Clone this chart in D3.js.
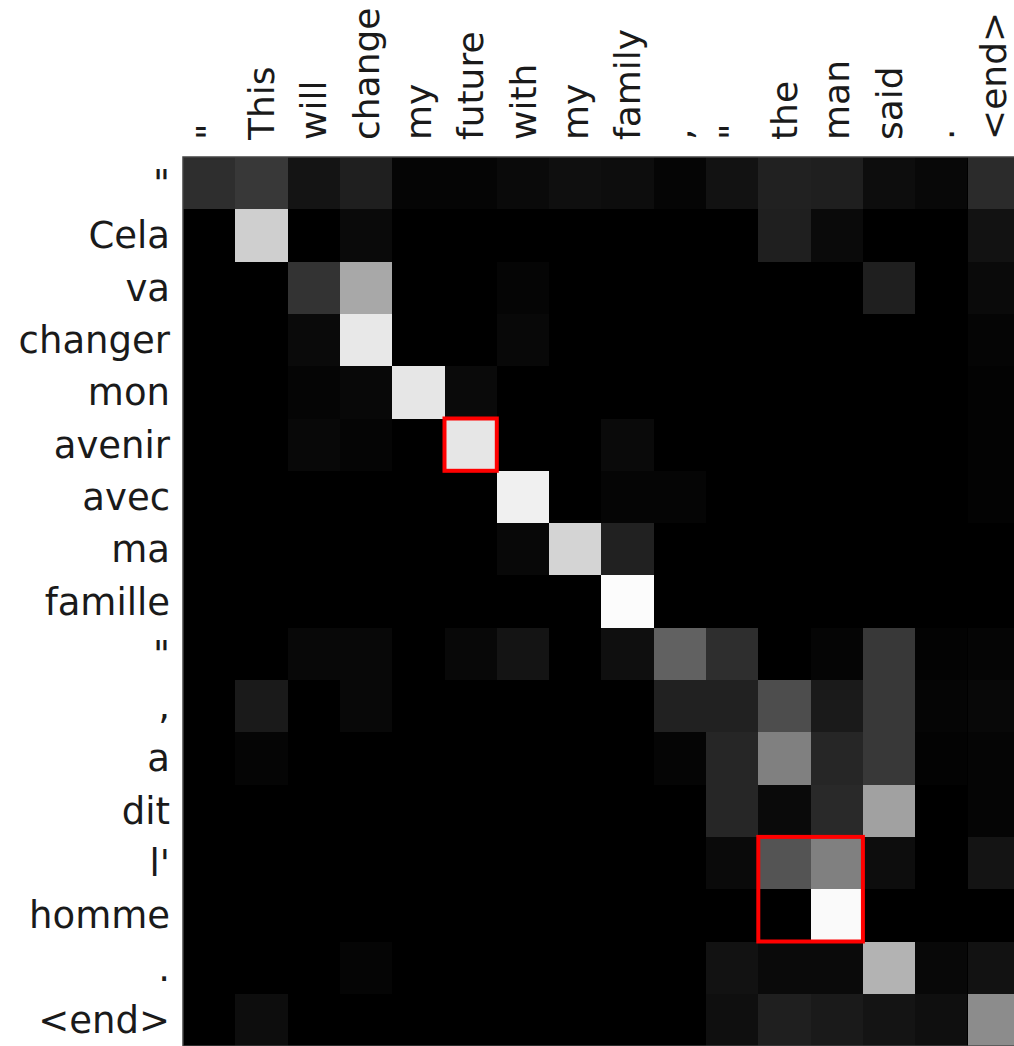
<!DOCTYPE html>
<html>
<head>
<meta charset="utf-8">
<script src="https://cdn.jsdelivr.net/npm/d3@7"></script>
<style>
    body { margin: 0; background: #fff; }
    text { font-family: "DejaVu Sans", sans-serif; fill: #1a1a1a; }
</style>
</head>
<body>
<script>
const w = 1014;
const h = 1046;
const gridLeft = 183;
const gridTop = 157;
const cell = 52.3;

// source tokens (columns) and translated tokens (rows)
const sourceTokens = ['"', "This", "will", "change", "my", "future", "with", "my", "family", ",", '"', "the", "man", "said", ".", "<end>"];
const targetTokens = ['"', "Cela", "va", "changer", "mon", "avenir", "avec", "ma", "famille", '"', ",", "a", "dit", "l'", "homme", ".", "<end>"];

// attention weights, one row per target token
const weights = [
    [0.18, 0.22, 0.08, 0.12, 0.02, 0.02, 0.04, 0.06, 0.05, 0.02, 0.07, 0.13, 0.12, 0.05, 0.03, 0.17],
    [0, 0.81, 0, 0.04, 0, 0, 0, 0, 0, 0, 0, 0.12, 0.04, 0, 0, 0.07],
    [0, 0, 0.2, 0.66, 0, 0, 0.02, 0, 0, 0, 0, 0, 0, 0.12, 0, 0.04],
    [0, 0, 0.04, 0.91, 0, 0, 0.03, 0, 0, 0, 0, 0, 0, 0, 0, 0.02],
    [0, 0, 0.02, 0.03, 0.9, 0.04, 0, 0, 0, 0, 0, 0, 0, 0, 0, 0.01],
    [0, 0, 0.03, 0.02, 0, 0.9, 0, 0, 0.04, 0, 0, 0, 0, 0, 0, 0.01],
    [0, 0, 0, 0, 0, 0, 0.94, 0, 0.02, 0.02, 0, 0, 0, 0, 0, 0.01],
    [0, 0, 0, 0, 0, 0, 0.03, 0.83, 0.13, 0, 0, 0, 0, 0, 0, 0],
    [0, 0, 0, 0, 0, 0, 0, 0, 0.99, 0, 0, 0, 0, 0, 0, 0],
    [0, 0, 0.03, 0.03, 0, 0.03, 0.08, 0, 0.06, 0.38, 0.18, 0, 0.02, 0.22, 0.01, 0.02],
    [0, 0.1, 0, 0.03, 0, 0, 0, 0, 0, 0.13, 0.13, 0.3, 0.1, 0.22, 0.02, 0.03],
    [0, 0.02, 0, 0, 0, 0, 0, 0, 0, 0.02, 0.15, 0.5, 0.15, 0.22, 0.01, 0.02],
    [0, 0, 0, 0, 0, 0, 0, 0, 0, 0, 0.15, 0.04, 0.16, 0.63, 0, 0.02],
    [0, 0, 0, 0, 0, 0, 0, 0, 0, 0, 0.04, 0.33, 0.5, 0.05, 0, 0.08],
    [0, 0, 0, 0, 0, 0, 0, 0, 0, 0, 0, 0, 0.98, 0, 0, 0],
    [0, 0, 0, 0.02, 0, 0, 0, 0, 0, 0, 0.07, 0.04, 0.04, 0.7, 0.03, 0.07],
    [0, 0.05, 0, 0, 0, 0, 0, 0, 0, 0, 0.06, 0.12, 0.1, 0.08, 0.06, 0.55]
];

// highlighted blocks: [firstRow, firstCol, lastRow, lastCol]
const highlights = [
    [5, 5, 5, 5],
    [13, 11, 14, 12]
];

const svg = d3.select("body").append("svg").attr("width", w).attr("height", h);

const xScale = d3.scaleBand()
    .domain(d3.range(sourceTokens.length))
    .range([gridLeft, gridLeft + cell * sourceTokens.length]);

const yScale = d3.scaleBand()
    .domain(d3.range(targetTokens.length))
    .range([gridTop, gridTop + cell * targetTokens.length]);

const color = d3.scaleLinear().domain([0, 1]).range(["#000", "#fff"]);

const cells = [];
weights.forEach(function (row, i) {
    row.forEach(function (v, j) {
        cells.push({ row: i, col: j, value: v });
    });
});

// black backdrop so no seams show between cells
svg.append("rect")
    .attr("x", gridLeft)
    .attr("y", gridTop)
    .attr("width", cell * sourceTokens.length)
    .attr("height", cell * targetTokens.length)
    .attr("fill", "#000");

svg.append("g")
    .attr("shape-rendering", "crispEdges")
    .selectAll("rect")
    .data(cells)
    .enter()
    .append("rect")
    .attr("x", d => Math.round(xScale(d.col)))
    .attr("y", d => Math.round(yScale(d.row)))
    .attr("width", d => Math.round(xScale(d.col) + xScale.bandwidth()) - Math.round(xScale(d.col)))
    .attr("height", d => Math.round(yScale(d.row) + yScale.bandwidth()) - Math.round(yScale(d.row)))
    .attr("fill", d => color(d.value));

// frame
svg.append("rect")
    .attr("x", gridLeft)
    .attr("y", gridTop)
    .attr("width", cell * sourceTokens.length)
    .attr("height", cell * targetTokens.length)
    .attr("fill", "none")
    .attr("stroke", "#444")
    .attr("stroke-width", 1.5);

svg.append("g")
    .selectAll("rect")
    .data(highlights)
    .enter()
    .append("rect")
    .attr("x", d => xScale(d[1]))
    .attr("y", d => yScale(d[0]))
    .attr("width", d => xScale(d[3]) + xScale.bandwidth() - xScale(d[1]))
    .attr("height", d => yScale(d[2]) + yScale.bandwidth() - yScale(d[0]))
    .attr("fill", "none")
    .attr("stroke", "#ff0000")
    .attr("stroke-width", 4);

// labels on top, rotated
svg.append("g")
    .selectAll("text")
    .data(sourceTokens)
    .enter()
    .append("text")
    .attr("transform", (d, i) => "translate(" + (xScale(i) + xScale.bandwidth() / 2) + ",140)rotate(-90)")
    .attr("dy", "0.35em")
    .attr("font-size", 36)
    .text(d => d);

// labels on the left
svg.append("g")
    .selectAll("text")
    .data(targetTokens)
    .enter()
    .append("text")
    .attr("x", 170)
    .attr("y", (d, i) => yScale(i) + yScale.bandwidth() / 2)
    .attr("dy", "0.35em")
    .attr("text-anchor", "end")
    .attr("font-size", 37)
    .text(d => d);
</script>
</body>
</html>
